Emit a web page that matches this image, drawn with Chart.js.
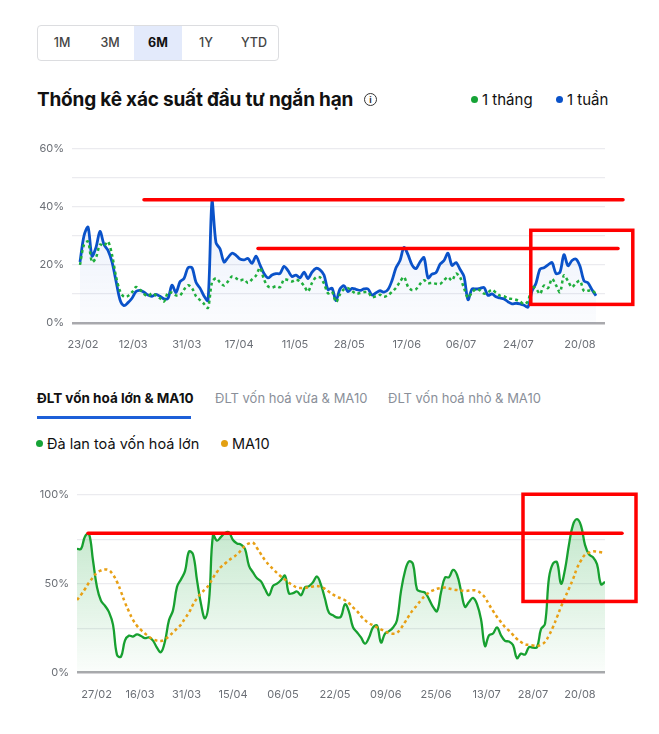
<!DOCTYPE html>
<html>
<head>
<meta charset="utf-8">
<script src="https://cdn.jsdelivr.net/npm/chart.js@4.4.1/dist/chart.umd.min.js"></script>
<style>
  body { margin: 0; background: #fff; font-family: Inter, "Noto Sans", sans-serif; color: #111; }
  .abs { position: absolute; white-space: nowrap; }
  .range { left: 37px; top: 25px; width: 240px; height: 34px; border: 1px solid #dcdde0; border-radius: 4px; display: flex; }
  .range span { width: 48px; height: 34px; line-height: 34px; text-align: center; font-size: 12.5px; font-weight: 500; color: #444; }
  .range span.on { background: #e3eafb; color: #111; font-weight: 700; }
  .title { left: 37px; top: 88px; font-size: 19px; font-weight: 700; line-height: 24px; letter-spacing: -0.2px; }
  .info { left: 364px; top: 93px; width: 11px; height: 11px; border: 1.3px solid #333; border-radius: 50%; font-size: 9px; font-weight: 700; text-align: center; line-height: 11px; color: #333; }
  .leg { font-size: 15px; line-height: 20px; color: #111; }
  .dot { display: inline-block; width: 7px; height: 7px; border-radius: 50%; margin-right: 4px; vertical-align: 2px; }
  .tab { top: 388px; font-size: 13px; line-height: 20px; font-weight: 400; color: #8a8f99; }
  .chartbox { position: absolute; }
</style>
</head>
<body>
<div class="abs range"><span>1M</span><span>3M</span><span class="on">6M</span><span>1Y</span><span>YTD</span></div>
<div class="abs title">Thống kê xác suất đầu tư ngắn hạn</div>
<div class="abs info">i</div>
<div class="abs leg" style="left:471px; top:90px;"><span class="dot" style="background:#16a336"></span>1 tháng</div>
<div class="abs leg" style="left:556px; top:90px;"><span class="dot" style="background:#0a52c9"></span>1 tuần</div>

<div class="chartbox" style="left:30px; top:134px; width:615px; height:224px;"><canvas id="topChart"></canvas></div>

<div class="abs tab" style="left:37px; font-size:13.5px; font-weight:700; color:#111;">ĐLT vốn hoá lớn &amp; MA10</div>
<div class="abs tab" style="left:215px;">ĐLT vốn hoá vừa &amp; MA10</div>
<div class="abs tab" style="left:388px;">ĐLT vốn hoá nhỏ &amp; MA10</div>
<div class="abs" style="left:37px; top:416px; width:154px; height:3px; background:#1d5fd8;"></div>
<div class="abs leg" style="left:36px; top:434px; font-size:14.5px;"><span class="dot" style="background:#16a336"></span>Đà lan toả vốn hoá lớn</div>
<div class="abs leg" style="left:221px; top:434px; font-size:14.5px;"><span class="dot" style="background:#e3a012"></span>MA10</div>

<div class="chartbox" style="left:30px; top:480px; width:615px; height:230px;"><canvas id="botChart"></canvas></div>

<script>
// --- biểu đồ trên: xác suất đầu tư ngắn hạn (%) ---
const topWeek = [21, 30, 33, 23, 26, 31.5, 27, 25, 21, 14.5, 8, 6, 7, 8.5, 10.8, 11.2, 10.6, 9.6, 9.2, 9.8,
  9.2, 8.3, 8.5, 13, 10.5, 14.2, 15.3, 19, 19, 14, 12, 9.3, 7.7, 41.8, 27.6, 25.5, 21, 22.5, 24, 23.3,
  22, 21.7, 22.2, 20.5, 23, 20, 17, 15.5, 16.5, 17, 17, 19.5, 18, 16, 16.5, 15.5, 17.5, 15.3, 17.5, 18.8,
  18.3, 16.5, 11.5, 12, 7.7, 11.7, 12.8, 10.8, 11.9, 11.6, 11.2, 11.7, 11.7, 9.6, 10.4, 11.1, 10.6, 11.5, 14.6, 19,
  21.5, 26, 23.5, 20, 18.7, 21, 22.5, 15.5, 16.8, 17.3, 20.2, 21.5, 24, 19.8, 20.8, 18.5, 16, 8, 11.7, 11.7,
  11.9, 12.2, 9.5, 10, 9, 8.6, 8.3, 7.3, 6.6, 6.8, 6.6, 6.1, 5.5, 11, 13.7, 18.5, 19, 20, 20.8, 17,
  17.5, 23.5, 19.7, 21.5, 22, 19.5, 14.5, 13.8, 11.4, 9.4];
const topMonth = [20, 27, 28, 21, 22.5, 27, 26.5, 28, 23.5, 16, 11, 9, 9.3, 10.6, 12.4, 11.5, 10, 9.2, 10.2, 9.5,
  8.5, 7.4, 10.5, 10.4, 9.5, 9.5, 11.5, 13, 12, 9.2, 7.9, 6.6, 5.2, 14, 15.4, 14, 12.9, 14.3, 16, 15.4,
  14.6, 15, 13.8, 15, 16.3, 19, 15, 12.6, 12.2, 12.7, 12.3, 15, 14.8, 14.3, 14.9, 14.3, 12.8, 10.8, 13.8, 15.7,
  15.7, 13.6, 10.2, 10.8, 7.2, 9.9, 11.6, 12, 11, 10.1, 10.3, 10.6, 10.6, 8.9, 9.2, 9.7, 9, 9.6, 10.7, 12.1,
  14.2, 15.8, 12.5, 11.3, 11.6, 13.4, 14.7, 13.7, 13.8, 13.5, 13.4, 14.7, 15.8, 14.6, 17, 15.8, 12, 8.7, 10.5, 11.7,
  11.2, 10.1, 10.6, 11.4, 10.4, 9.4, 9.2, 8.4, 8.3, 8, 7.4, 6.5, 7.5, 12.3, 11.8, 10, 12.9, 12, 15.2, 13,
  10.6, 16.4, 14.4, 12.3, 13.8, 14.5, 11, 11.1, 11.2, 10];
const topDates = ['23/02', '12/03', '31/03', '17/04', '11/05', '28/05', '17/06', '06/07', '24/07', '20/08'];
const topDateAt = [0.75, 13.3, 26.7, 39.8, 53.75, 67.3, 81.7, 95.25, 109.6, 125];

// --- biểu đồ dưới: độ lan toả vốn hoá lớn (%) và MA10 ---
const breadth = [69.5, 69.5, 76.5, 78, 63, 48, 40.4, 37.6, 34, 27, 10, 9, 18.1, 20.8, 20.3, 21.5, 20.6, 19.4, 19.8, 18,
  14, 11.5, 17.7, 29.5, 35, 48.2, 52.4, 57, 68, 66.5, 52, 38.6, 30.5, 40.4, 77.4, 74.2, 76.3, 78.5, 78.8, 74.5,
  72.6, 71.9, 69.5, 60, 56.3, 53, 51.3, 47, 43.5, 48.7, 50, 52, 54.5, 44.5, 44.7, 45.6, 43.5, 48, 48.6, 50.8,
  54, 49.3, 41.5, 33.6, 32.2, 31, 31.5, 38.5, 34.2, 25.5, 22.7, 19.8, 16.3, 19.7, 25.4, 26.5, 17, 21.9, 23.3, 25.4,
  29.5, 45.8, 57, 62.5, 61, 46.8, 45.6, 45, 41.3, 37, 34.5, 45, 53.5, 53.6, 57.7, 55, 46, 37, 39.7, 42,
  38.5, 30, 15, 21, 22, 25.5, 21, 17.9, 17.5, 15.5, 8.2, 10.7, 10.2, 14.4, 14.1, 14.3, 24.4, 27.4, 53.3, 61.3,
  62, 50, 58, 72, 83, 86.2, 82.6, 71.8, 66.4, 64.8, 61, 49.6, 51];
const ma10 = [40.8, 43.7, 47, 50.6, 53.5, 56.2, 57.4, 58, 57.5, 55, 51, 45.5, 39.4, 34.3, 29.6, 26.3, 24, 22, 20.2, 18.8,
  18, 17.8, 18.8, 20.4, 22.6, 24.8, 27, 30.5, 33.8, 38.2, 41.8, 44.5, 46.8, 49.3, 53.3, 56.6, 59.4, 61.3, 63.2, 64.7,
  66.4, 68.7, 71.3, 72.6, 73, 70, 66.5, 63.2, 60.5, 58.2, 56, 54, 52.3, 50.5, 49, 47.8, 47.5, 47.6, 48, 48.4,
  48.7, 48.1, 47.1, 45.4, 43.9, 42.6, 41.7, 40.7, 39, 36.7, 34.6, 31.8, 29.5, 27.8, 26.6, 25.5, 24.3, 23.3, 22.2, 21.9,
  22.4, 25, 28.4, 32, 35.3, 37.8, 40.8, 43.1, 45, 46.2, 47.1, 47.5, 47.8, 47.3, 46.8, 46.4, 46.2, 45.9, 46.1, 46.3,
  46, 44.5, 42.2, 38.3, 34.7, 31.3, 28.4, 25.6, 23.6, 21.3, 18.9, 17.2, 15.9, 15.6, 15.3, 14.9, 15.7, 17.2, 21, 25.6,
  31.2, 37, 42.2, 47.3, 52.5, 58.7, 63, 66.3, 67.4, 68.1, 67.9, 67.6, 67.2];
const botDates = ['27/02', '16/03', '31/03', '15/04', '06/05', '22/05', '09/06', '25/06', '13/07', '28/07', '20/08'];
const botDateAt = [4.9, 15.75, 27.4, 39, 51.5, 64.5, 77.2, 89.75, 102.4, 114, 125.75];

// nét đỏ đánh dấu tay (theo đơn vị dữ liệu: [từ, đến, mức])
const topRedLines = [[16, 135.75, 42.4], [44.5, 134.5, 25.6]];
const topRedBox = [112.7, 138.2, 31.9, 6.4];
const botRedLines = [[2.75, 136.25, 78.3]];
const botRedBox = [111.5, 139.75, 100.2, 40];

const toXY = arr => arr.map((v, i) => ({ x: i, y: v }));

// vẽ các đường và khung đỏ qua trục của biểu đồ
const redMarks = {
  id: 'redMarks',
  afterDraw(chart, args, opts) {
    const { ctx, scales: { x, y } } = chart;
    ctx.save();
    ctx.strokeStyle = '#ff0000';
    ctx.lineWidth = 3.5;
    ctx.lineCap = 'round';
    (opts.lines || []).forEach(([a, b, v]) => {
      ctx.beginPath();
      ctx.moveTo(x.getPixelForValue(a), y.getPixelForValue(v));
      ctx.lineTo(x.getPixelForValue(b), y.getPixelForValue(v));
      ctx.stroke();
    });
    if (opts.box) {
      const [a, b, hi, lo] = opts.box;
      ctx.lineCap = 'butt';
      ctx.strokeRect(x.getPixelForValue(a), y.getPixelForValue(hi),
        x.getPixelForValue(b) - x.getPixelForValue(a), y.getPixelForValue(lo) - y.getPixelForValue(hi));
    }
    ctx.restore();
  }
};

function fade(rgb, a1, a2) {
  return (context) => {
    const { ctx, chartArea } = context.chart;
    if (!chartArea) return null;
    const g = ctx.createLinearGradient(0, chartArea.top, 0, chartArea.bottom);
    g.addColorStop(0, `rgba(${rgb},${a1})`);
    g.addColorStop(1, `rgba(${rgb},${a2})`);
    return g;
  };
}

function baseOptions(yMax, yStep, labelEvery, yWidth, xHeight, padTop, xMin, xMax, tickAt, tickText) {
  return {
    responsive: true,
    maintainAspectRatio: false,
    animation: false,
    layout: { padding: { top: padTop, right: 40, left: 0, bottom: 0 } },
    plugins: { legend: { display: false }, tooltip: { enabled: false } },
    elements: { point: { radius: 0 } },
    scales: {
      x: {
        type: 'linear', min: xMin, max: xMax,
        grid: { display: false }, border: { display: false },
        afterBuildTicks: s => { s.ticks = tickAt.map(v => ({ value: v })); },
        afterFit: s => { s.height = xHeight; },
        ticks: {
          autoSkip: false, maxRotation: 0, padding: 7,
          color: '#6b6f76', font: { family: 'Inter', size: 11 },
          callback: (v, i) => tickText[i]
        }
      },
      y: {
        min: 0, max: yMax,
        border: { display: false },
        afterFit: s => { s.width = yWidth; },
        grid: {
          drawTicks: false,
          color: c => c.tick.value === 0 ? '#a9a9ad' : '#ebebef',
          lineWidth: c => c.tick.value === 0 ? 2.5 : 1.2
        },
        ticks: {
          stepSize: yStep, padding: 8,
          color: '#6b6f76', font: { family: 'Inter', size: 11 },
          callback: v => (v % labelEvery === 0 ? v + '%' : '')
        }
      }
    }
  };
}

const topOpts = baseOptions(60, 10, 20, 42, 35, 2, -2, 131.25, topDateAt, topDates);
topOpts.plugins.redMarks = { lines: topRedLines, box: topRedBox };
new Chart(document.getElementById('topChart'), {
  type: 'line',
  data: {
    datasets: [{
      label: '1 tháng',
      data: toXY(topMonth),
      borderColor: '#1fae3c',
      borderWidth: 2.5,
      borderDash: [3, 3],
      tension: 0.3,
      fill: false
    }, {
      label: '1 tuần',
      data: toXY(topWeek),
      borderColor: '#0a52c9',
      borderWidth: 2.8,
      tension: 0.3,
      fill: 'origin',
      backgroundColor: fade('40,95,210', 0.13, 0.02)
    }]
  },
  options: topOpts,
  plugins: [redMarks]
});

const botOpts = baseOptions(100, 25, 50, 47, 37.3, 13.3, 0, 132, botDateAt, botDates);
botOpts.plugins.redMarks = { lines: botRedLines, box: botRedBox };
new Chart(document.getElementById('botChart'), {
  type: 'line',
  data: {
    datasets: [{
      label: 'MA10',
      data: toXY(ma10),
      borderColor: '#e8a015',
      borderWidth: 2.5,
      borderDash: [3, 3],
      tension: 0.4,
      fill: false
    }, {
      label: 'Đà lan toả vốn hoá lớn',
      data: toXY(breadth),
      borderColor: '#17a030',
      borderWidth: 2.3,
      tension: 0.4,
      fill: 'origin',
      backgroundColor: fade('40,170,70', 0.32, 0.02)
    }]
  },
  options: botOpts,
  plugins: [redMarks]
});
</script>
</body>
</html>
